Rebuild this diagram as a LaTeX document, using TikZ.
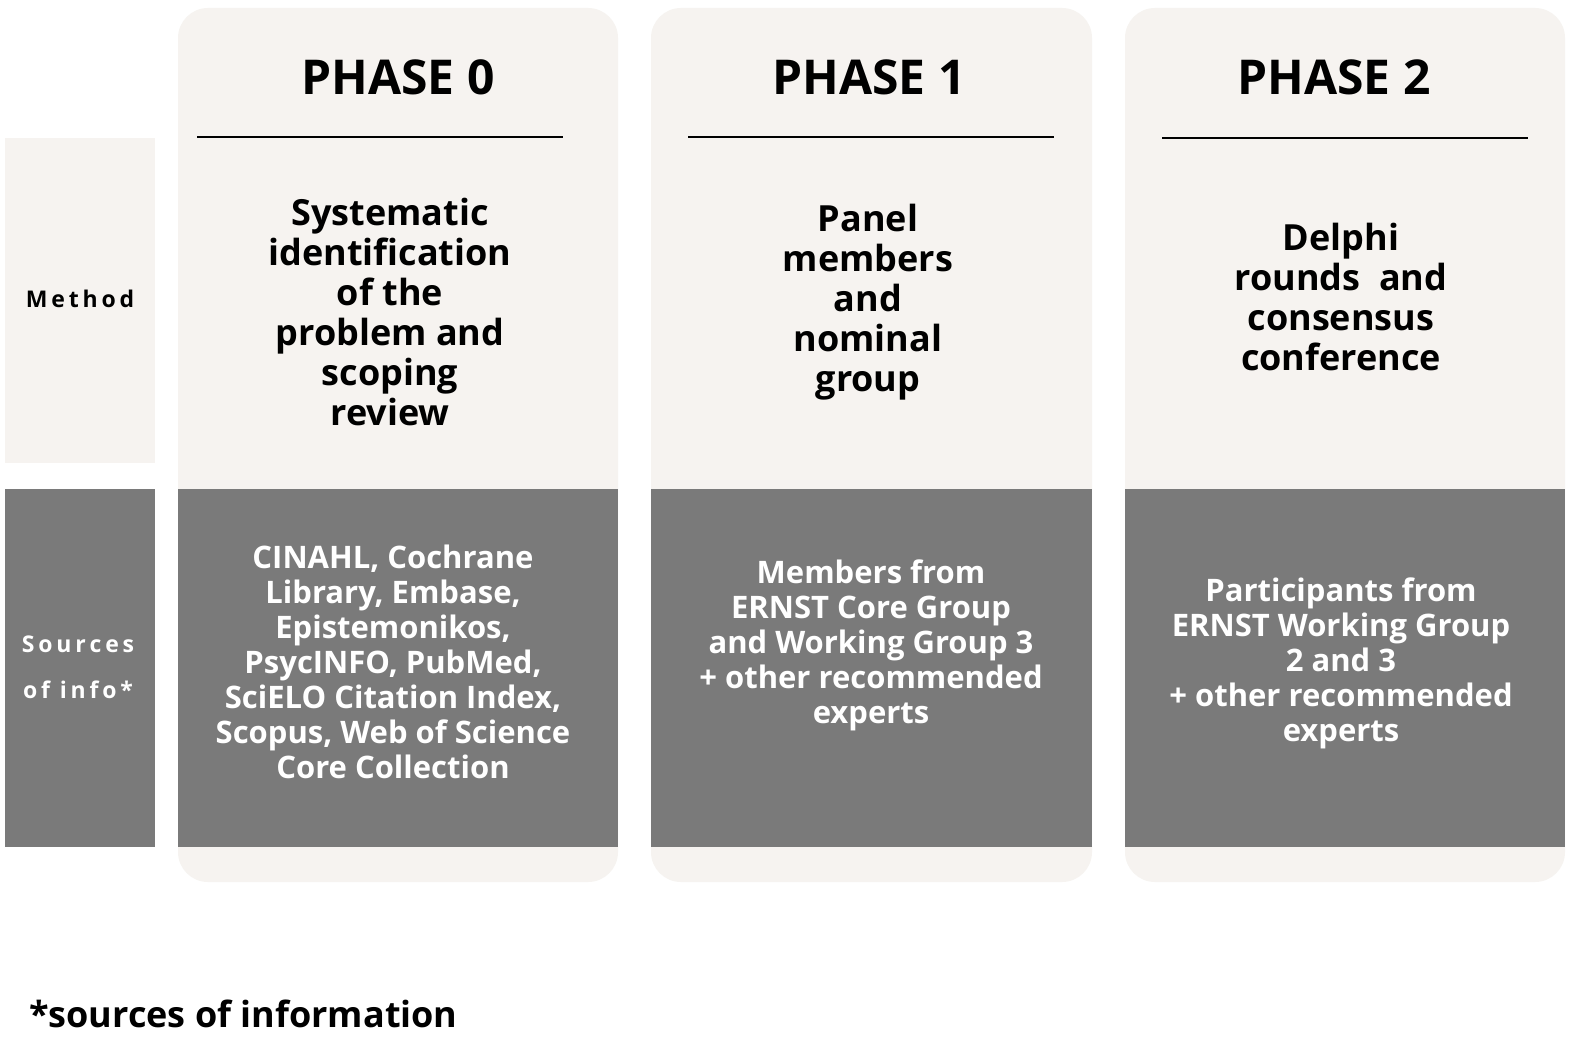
\documentclass[tikz,border=0pt]{standalone}
\usepackage{fontspec}
\setmainfont{Open Sans}
\usepackage{xcolor}
\definecolor{cream}{HTML}{F6F3F0}
\definecolor{band}{HTML}{7A7A7A}
\tikzset{
  column/.style={fill=cream, draw=none, rounded corners=15pt},
  heading/.style={font=\fontsize{24}{28}\selectfont\bfseries},
  method/.style={font=\fontsize{18}{20}\selectfont\bfseries, align=center},
  source/.style={font=\fontsize{15.5}{17.5}\selectfont\bfseries, align=center, text=white},
  side/.style={font=\fontsize{11.5}{17}\selectfont\bfseries, align=center}
}
\begin{document}
\begin{tikzpicture}[x=0.5pt, y=-0.5pt]
        \useasboundingbox[fill=white] (0,0) rectangle (1578,1043);

        % Left labels
        \fill[cream] (5,138) rectangle (155,463);
        \fill[band] (5,489) rectangle (155,847);
        \node[side] (lblmethod) at (80,299) {M\,e\,t\,h\,o\,d};
        \node[side, text=white] (lblsrc) at (78,667) {S\,o\,u\,r\,c\,e\,s\\[6pt]o\,f\, i\,n\,f\,o\,*};

        % Columns
        \foreach \xa/\xb in {178/618, 651/1092, 1125/1565} {
          \fill[column] (\xa,8) rectangle (\xb,882);
          \fill[band] (\xa,489) rectangle (\xb,847);
        }

        % Headings
        \node[heading] (ph0) at (398,77) {PHASE 0};
        \node[heading] (ph1) at (869,77) {PHASE 1};
        \node[heading] (ph2) at (1334,77) {PHASE 2};
        \draw[thick] (197,137) -- (563,137);
        \draw[thick] (688,137) -- (1054,137);
        \draw[thick] (1162,138) -- (1528,138);

        % Method
        \node[method] (m0) at (390,312) {Systematic\\identification\\of the\\problem and\\scoping\\review};
        \node[method] (m1) at (868,302) {Panel\\members\\and\\nominal\\group};
        \node[method] (m2) at (1341,297) {Delphi\\rounds~ and\\consensus\\conference};

        % Sources
        \node[source] (s0) at (393,662) {CINAHL, Cochrane\\Library, Embase,\\Epistemonikos,\\PsycINFO, PubMed,\\SciELO Citation Index,\\Scopus, Web of Science\\Core Collection};
        \node[source] (s1) at (871,645) {Members from\\ERNST Core Group\\and Working Group 3\\+ other recommended\\experts};
        \node[source] (s2) at (1341,663) {Participants from\\ERNST Working Group\\2 and 3\\+ other recommended\\experts};

        % Footnote
        \node[font=\fontsize{18}{20}\selectfont\bfseries, anchor=west] (foot) at (22,1014) {*sources of information};
\end{tikzpicture}
\end{document}
